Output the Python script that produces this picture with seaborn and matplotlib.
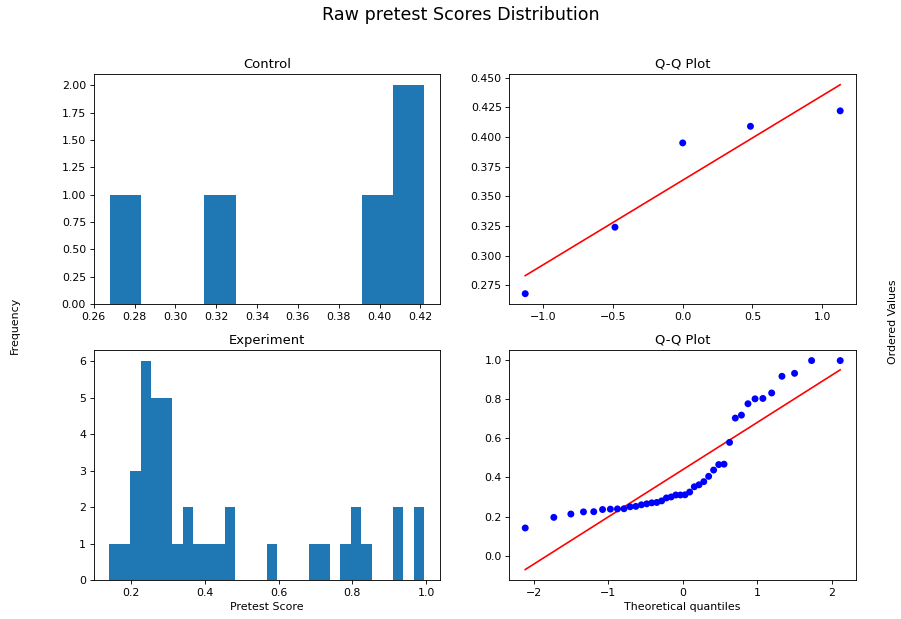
import numpy as np
import seaborn as sns
import matplotlib.pyplot as plt
from matplotlib.ticker import MultipleLocator
from statistics import NormalDist

# pretest scores
control_scores = [0.268, 0.324, 0.395, 0.409, 0.422]
experiment_scores = [
    0.142, 0.196, 0.213, 0.224, 0.225, 0.236, 0.238, 0.239, 0.240, 0.250,
    0.252, 0.260, 0.265, 0.270, 0.272, 0.280, 0.295, 0.300, 0.310, 0.310,
    0.311, 0.325, 0.352, 0.362, 0.378, 0.405, 0.437, 0.465, 0.467, 0.578,
    0.702, 0.717, 0.775, 0.800, 0.802, 0.830, 0.915, 0.930, 0.995, 0.995,
]
groups = ['Control', 'Experiment']
group_bins = [10, 30]


def qq_points(values):
    # same as scipy.stats.probplot (Filliben medians + least squares line)
    y = np.sort(np.asarray(values))
    n = len(y)
    m = (np.arange(1, n + 1) - 0.3175) / (n + 0.365)
    m[-1] = 0.5 ** (1.0 / n)
    m[0] = 1 - m[-1]
    x = np.array([NormalDist().inv_cdf(p) for p in m])
    slope, intercept = np.polyfit(x, y, 1)
    return x, y, slope * x + intercept


DPI = 79
fig, axes = plt.subplots(2, 2, figsize=(901 / DPI, 619 / DPI), dpi=DPI)
fig.subplots_adjust(left=0.104, right=0.950, top=0.880, bottom=0.063,
                    wspace=0.2, hspace=0.2)

for i, (name, data, nb) in enumerate(zip(groups, [control_scores, experiment_scores], group_bins)):
    ax = axes[i, 0]
    sns.histplot(x=data, bins=nb, ax=ax, color='#1f77b4', alpha=1,
                 linewidth=0, element='bars')
    ax.set_title(name)
    ax.set_ylabel('')

    qx, qy, fit = qq_points(data)
    ax2 = axes[i, 1]
    sns.lineplot(x=qx, y=fit, ax=ax2, color='red', linewidth=1.5,
                 estimator=None, sort=False)
    sns.scatterplot(x=qx, y=qy, ax=ax2, color='blue', s=40,
                    edgecolor='none', zorder=3)
    ax2.set_title('Q-Q Plot')

axes[1, 0].set_xlabel('Pretest Score')
axes[1, 1].set_xlabel('Theoretical quantiles')
axes[0, 0].set_xticks(np.arange(0.26, 0.421, 0.02))
axes[0, 0].yaxis.set_major_locator(MultipleLocator(0.25))
axes[0, 0].yaxis.set_major_formatter('{x:.2f}')

fig.suptitle('Raw pretest Scores Distribution', x=0.512, y=0.976,
             va='center', fontsize=16)
fig.text(0.017, 0.475, 'Frequency', rotation=90, ha='center', va='center')
fig.text(0.991, 0.481, 'Ordered Values', rotation=90, ha='center', va='center')

plt.savefig('out.png')
